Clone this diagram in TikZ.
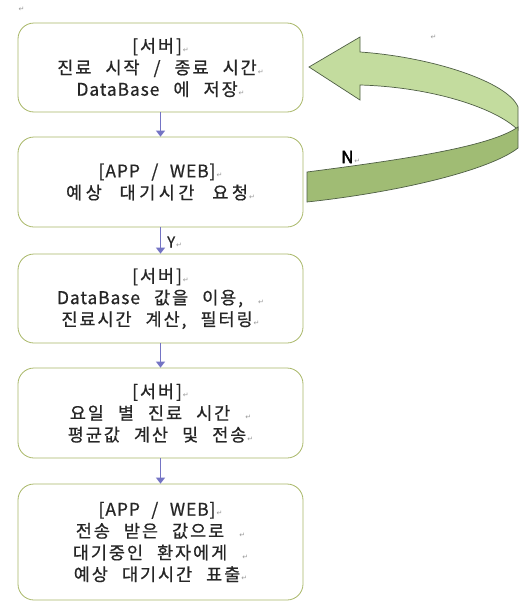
\documentclass[tikz,border=0pt]{standalone}
\usepackage{fontspec}
\setmainfont{Noto Sans CJK KR}[LetterSpace=11,WordSpace=2.4,FakeBold=0.6]
\newfontfamily\latf{Noto Sans CJK KR}[LetterSpace=5,WordSpace=2.4,FakeBold=0.6]
\newfontfamily\latb{Noto Sans CJK KR}[FakeBold=2.2]
\newfontfamily\pmfont{DejaVu Sans}
\usetikzlibrary{arrows.meta}
\definecolor{boxline}{HTML}{A9B868}
\definecolor{flow}{HTML}{7474C4}
\definecolor{bandlight}{HTML}{C3DC9E}
\definecolor{banddark}{HTML}{A0BC74}
\definecolor{bandedge}{HTML}{4F5F45}
\definecolor{txt}{HTML}{262626}
\newcommand\pmk{{\pmfont\fontsize{7}{7}\selectfont\color{gray!80}\kern1pt↵}}
\newcommand\lt[1]{{\latf #1}}
\tikzset{
  stepbox/.style={draw=boxline, line width=0.8pt, rounded corners=16pt, fill=white,
    minimum width=285pt, align=center, text=txt, inner sep=0pt,
    font=\fontsize{17.5}{21.7}\selectfont},
  flowarrow/.style={draw=flow, line width=1.1pt, -{Triangle[length=6pt,width=9pt]}},
}
\begin{document}
\begin{tikzpicture}[x=1pt,y=-1pt]
\useasboundingbox (0,0) rectangle (528,608);
\fill[white] (0,0) rectangle (528,608);
% paragraph marks outside boxes
\node[inner sep=0pt] (pm1) at (21,9) {\pmk};
\node[inner sep=0pt] (pm2) at (433,37) {\pmk};
% curved arrow (upper band with head)
\filldraw[fill=bandlight, draw=bandedge, line width=0.7pt]
  (360,52) .. controls (432,57) and (508,82) .. (518,107)
  -- (518,130) .. controls (496,108) and (432,87) .. (360,85)
  -- (360,100) -- (309,67) -- (360,37) -- cycle;
% lower band
\filldraw[fill=banddark, draw=bandedge, line width=0.7pt]
  (307,172) .. controls (400,160) and (490,147) .. (518,127)
  -- (518,148) .. controls (490,170) and (400,192) .. (307,202) -- cycle;
% boxes
\node[stepbox, minimum height=89pt] (b1) at (160.5,67.5)
  {[서버]\pmk\\ 진료 시작 / 종료 시간\pmk\\ \lt{DataBase} 에 저장\pmk};
\node[stepbox, minimum height=90pt] (b2) at (160.5,182)
  {\lt{[APP / WEB]}\pmk\\ {\addfontfeatures{LetterSpace=20}예상 대기시간 요청}\pmk};
\node[stepbox, minimum height=89pt] (b3) at (160.5,298.5)
  {[서버]\pmk\\ \lt{DataBase} 값을 이용, \pmk\\ 진료시간 계산, 필터링\pmk};
\node[stepbox, minimum height=90pt] (b4) at (160.5,413)
  {[서버]\pmk\\ 요일 별 진료 시간 \pmk\\ 평균값 계산 및 전송\pmk};
\node[stepbox, minimum height=116pt] (b5) at (160.5,542)
  {\lt{[APP / WEB]}\pmk\\ 전송 받은 값으로 \pmk\\ 대기중인 환자에게 \pmk\\ 예상 대기시간 표출\pmk};
% connectors
\draw[flowarrow] (b1.south) -- (b2.north);
\draw[flowarrow] (b2.south) -- (b3.north);
\draw[flowarrow] (b3.south) -- (b4.north);
\draw[flowarrow] (b4.south) -- (b5.north);
% labels
\node[inner sep=0pt, text=txt, font=\latf\fontsize{15}{15}\selectfont, anchor=west] (ly) at (167,242) {Y\pmk};
\node[inner sep=0pt, text=black, font=\latb\fontsize{17}{17}\selectfont, anchor=west] (ln) at (341,157) {N\pmk};
\end{tikzpicture}
\end{document}
